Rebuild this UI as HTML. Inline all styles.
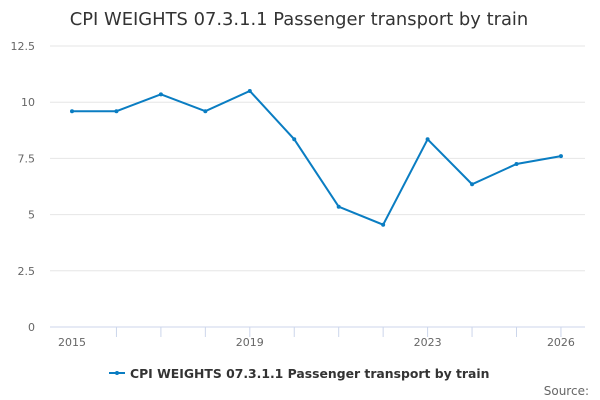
<!DOCTYPE html>
<html><head><meta charset="utf-8"><style>
body{margin:0;background:#fff;}
svg{display:block;font-family:"DejaVu Sans","Liberation Sans",sans-serif;}
</style></head><body>
<svg id="c" width="600" height="400">
<text x="299" y="25" text-anchor="middle" font-size="17.9" fill="#333">CPI WEIGHTS 07.3.1.1 Passenger transport by train</text>
<g id="grid"></g><g id="xax"></g><g id="series"></g>
<g>
<line x1="109" y1="373" x2="125" y2="373" stroke="#0a7dc2" stroke-width="2"/>
<circle cx="117" cy="373" r="2" fill="#0a7dc2"/>
<text x="130" y="378" font-size="12.4" font-weight="bold" fill="#333">CPI WEIGHTS 07.3.1.1 Passenger transport by train</text>
</g>
<text x="589" y="395" text-anchor="end" font-size="12" fill="#666">Source:</text>
</svg>
<script>
const years=[2015,2016,2017,2018,2019,2020,2021,2022,2023,2024,2025,2026];
const values=[9.6,9.6,10.35,9.6,10.5,8.35,5.35,4.55,8.35,6.35,7.25,7.6];
const yTicks=[0,2.5,5,7.5,10,12.5];
const yTickLabels=["0","2.5","5","7.5","10","12.5"];
const xLabelYears=[2015,2019,2023,2026];
const NS="http://www.w3.org/2000/svg";
const x=v=>72+(v-2015)*44.45;
const y=v=>327-v*22.48;
function mk(t,a,p){const e=document.createElementNS(NS,t);for(const k in a)e.setAttribute(k,a[k]);p.appendChild(e);return e;}
const g=document.getElementById('grid');
yTicks.forEach((t,i)=>{
 const l=mk('line',{x1:50,x2:585,y1:y(t),y2:y(t),stroke:t===0?'#ccd6eb':'#e6e6e6','stroke-width':1},g);
 
 
 const tx=mk('text',{x:35,y:y(t)+4,'text-anchor':'end','font-size':11,fill:'#666'},g);
 tx.textContent=yTickLabels[i];
 
 
});
const xa=document.getElementById('xax');
years.slice(1).forEach(yr=>{
 const l=mk('line',{x1:x(yr),x2:x(yr),y1:327,y2:337,stroke:'#ccd6eb'},xa);
 
 
});
xLabelYears.forEach(yr=>{
 const t=mk('text',{x:x(yr),y:346,'text-anchor':'middle','font-size':11,fill:'#666'},xa);
 t.textContent=yr;
 
 
});
const s=document.getElementById('series');
const p=mk('path',{d:values.map((v,i)=>(i?'L':'M')+x(years[i])+' '+y(v)).join(''),fill:'none',stroke:'#0a7dc2','stroke-width':2},s);


values.forEach((v,i)=>{
 const c=mk('circle',{cx:x(years[i]),cy:y(v),r:2,fill:'#0a7dc2'},s);
 
 
});
</script>
</body></html>
